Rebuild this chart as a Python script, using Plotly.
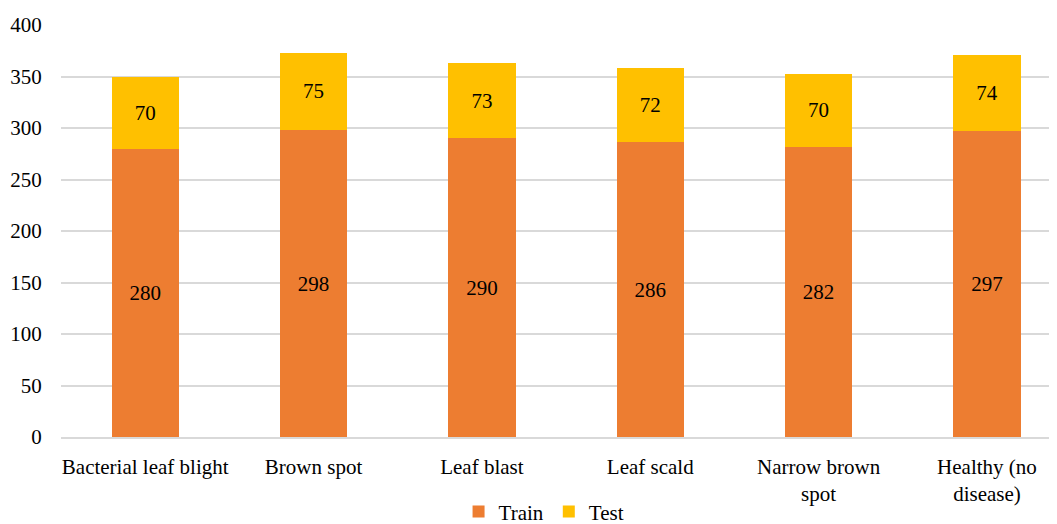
import plotly.graph_objects as go

categories = ["Bacterial leaf blight", "Brown spot", "Leaf blast", "Leaf scald",
              "Narrow brown<br>spot", "Healthy (no<br>disease)"]
train = [280, 298, 290, 286, 282, 297]
test = [70, 75, 73, 72, 70, 74]
y_ticks = [0, 50, 100, 150, 200, 250, 300, 350, 400]

FONT = "Liberation Serif"
SIZE = 21
fig = go.Figure()
fig.add_trace(go.Bar(name="Train", x=categories, y=train, marker_color="#ED7D31",
                     text=train, textposition="inside", insidetextanchor="middle",
                     textfont=dict(color="black", size=SIZE, family=FONT),
                     marker_line_width=0))
fig.add_trace(go.Bar(name="Test", x=categories, y=test, marker_color="#FFC000",
                     text=test, textposition="inside", insidetextanchor="middle",
                     textfont=dict(color="black", size=SIZE, family=FONT),
                     marker_line_width=0))
fig.update_layout(
    barmode="stack", bargap=0.6,
    width=1049, height=516,
    margin=dict(l=53, r=0, t=17, b=87, autoexpand=False),
    plot_bgcolor="white", paper_bgcolor="white",
    font=dict(family=FONT, size=SIZE, color="black"),
    showlegend=True,
    legend=dict(orientation="h", x=0.485, xanchor="center", y=-0.132, yanchor="top",
                font=dict(size=SIZE), itemwidth=30, traceorder="normal"),
    uniformtext=dict(mode=False),
)
fig.update_xaxes(range=[-0.5, 5.416], showgrid=False, showline=True, linecolor="#d9d9d9",
                 linewidth=1.5, ticks="outside", ticklen=10, tickcolor="rgba(0,0,0,0)",
                 tickfont=dict(size=SIZE), automargin=False)
fig.update_yaxes(range=[0, 400], tickvals=y_ticks, showgrid=True, gridcolor="#d9d9d9",
                 gridwidth=1.5, zeroline=False, showline=False, ticks="outside", ticklen=14,
                 tickcolor="rgba(0,0,0,0)", tickfont=dict(size=SIZE), automargin=False)
fig.write_html("out.html")
